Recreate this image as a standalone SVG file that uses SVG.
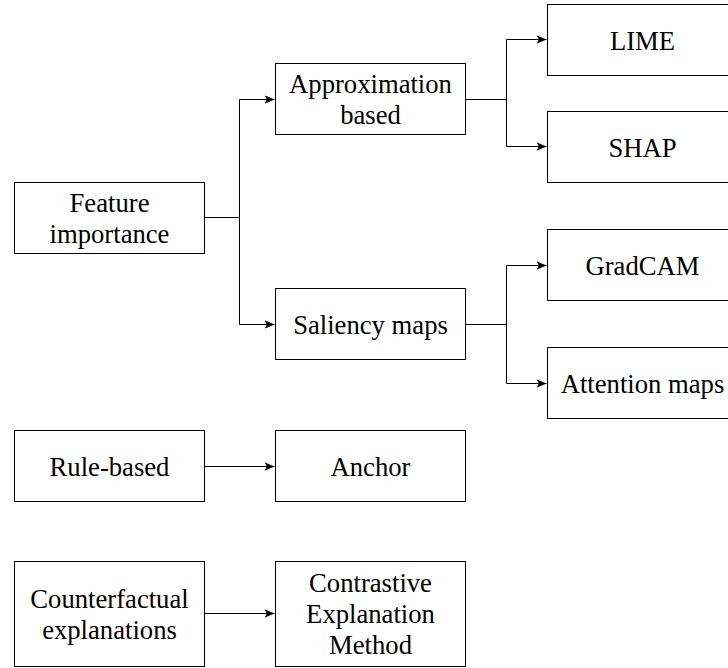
<svg xmlns="http://www.w3.org/2000/svg" width="728" height="668" viewBox="0 0 728 668">
<style>
.box{fill:#fff;stroke:#000;stroke-width:1}
text{font-family:"Times New Roman","Liberation Serif",Times,serif;font-size:26.67px;fill:#000;text-anchor:middle}
.ln{fill:none;stroke:#000;stroke-width:1}
</style>
<defs>
<marker id="arr" markerUnits="userSpaceOnUse" markerWidth="12" markerHeight="10" refX="10" refY="5" orient="auto">
<path d="M0,0.8 L10,5 L0,9.2 L2.5,5 Z" fill="#000"/>
</marker>
</defs>
<rect width="728" height="668" fill="#fff"/>
<g id="connectors">
<path class="ln" d="M204.5,217.5 H239.5 V99.5 H274.5" marker-end="url(#arr)"/>
<path class="ln" d="M239.5,217.5 V324.5 H274.5" marker-end="url(#arr)"/>
<path class="ln" d="M465.5,99.5 H506.5 V39.5 H546.5" marker-end="url(#arr)"/>
<path class="ln" d="M506.5,99.5 V146.5 H546.5" marker-end="url(#arr)"/>
<path class="ln" d="M465.5,324.5 H506.5 V265.5 H546.5" marker-end="url(#arr)"/>
<path class="ln" d="M506.5,324.5 V383.5 H546.5" marker-end="url(#arr)"/>
<path class="ln" d="M204.5,466.5 H274.5" marker-end="url(#arr)"/>
<path class="ln" d="M204.5,613.5 H274.5" marker-end="url(#arr)"/>
</g>
<g id="feature-importance">
<rect class="box" x="14.5" y="182.5" width="190" height="71"/>
<text x="109.5" y="211.5">Feature</text>
<text x="109.5" y="242.5">importance</text>
</g>
<g id="approximation-based">
<rect class="box" x="275.5" y="63.5" width="190" height="71"/>
<text x="370.5" y="93">Approximation</text>
<text x="370.5" y="124">based</text>
</g>
<g id="saliency-maps">
<rect class="box" x="275.5" y="288.5" width="190" height="71"/>
<text x="370.5" y="334">Saliency maps</text>
</g>
<g id="lime">
<rect class="box" x="547.5" y="4.5" width="190" height="71"/>
<text x="642.5" y="50">LIME</text>
</g>
<g id="shap">
<rect class="box" x="547.5" y="111.5" width="190" height="71"/>
<text x="642.5" y="156.5">SHAP</text>
</g>
<g id="gradcam">
<rect class="box" x="547.5" y="229.5" width="190" height="71"/>
<text x="642.5" y="275">GradCAM</text>
</g>
<g id="attention-maps">
<rect class="box" x="547.5" y="347.5" width="190" height="71"/>
<text x="642.5" y="393">Attention maps</text>
</g>
<g id="rule-based">
<rect class="box" x="14.5" y="430.5" width="190" height="71"/>
<text x="109.5" y="476">Rule-based</text>
</g>
<g id="anchor">
<rect class="box" x="275.5" y="430.5" width="190" height="71"/>
<text x="370.5" y="476">Anchor</text>
</g>
<g id="counterfactual">
<rect class="box" x="14.5" y="561.5" width="190" height="105"/>
<text x="109.5" y="607.5">Counterfactual</text>
<text x="109.5" y="638.5">explanations</text>
</g>
<g id="contrastive">
<rect class="box" x="275.5" y="561.5" width="190" height="105"/>
<text x="370.5" y="592">Contrastive</text>
<text x="370.5" y="623">Explanation</text>
<text x="370.5" y="654">Method</text>
</g>
</svg>
